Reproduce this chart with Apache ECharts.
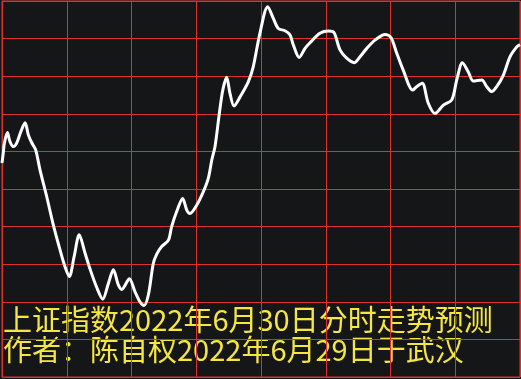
<!DOCTYPE html>
<html>
<head>
<meta charset="utf-8">
<script src="https://cdn.jsdelivr.net/npm/echarts@6/dist/echarts.min.js"></script>
<style>
html,body{margin:0;padding:0;background:#151618;}
#chart{width:521px;height:379px;}
</style>
</head>
<body>
<div id="chart"></div>
<script>
// minutes since open (0..240)
const minutes = [0,0.6,1.1,2.5,3.7,5.2,6.8,8.7,10.7,12.2,13.8,15.6,17.6,20.7,23.8,26.9,29.2,31.2,33.4,35.8,38.5,40.8,43.9,46.7,49.3,51.6,53.9,55.5,59.0,61.6,63.9,65.8,67.8,70.1,71.7,74.0,77.1,78.6,81.2,83.7,85.6,87.1,90.2,93.3,95.6,97.2,98.7,100.7,102.3,104.1,105.6,107.5,110.3,114.1,116.4,119.5,123.1,125.7,128.0,131.1,133.4,135.0,137.7,140.4,142.7,147.3,151.2,153.8,156.6,159.7,163.2,165.9,169.0,172.8,177.5,180.2,182.9,185.9,190.3,192.1,194.7,197.5,200.6,204.5,208.4,210.7,213.3,216.0,218.4,222.3,224.6,226.9,229.2,232.3,235.4,238.5,240];
// relative level (0..100 scale of the panel)
const levels = [56.9,59.6,62.2,65.0,62.6,61.3,62.2,65.2,67.6,64.4,62.3,60.4,55.1,48.0,40.4,33.8,29.3,26.7,32.0,37.8,32.9,28.7,23.8,20.7,24.9,28.5,24.5,23.3,26.1,22.7,20.0,19.0,21.8,30.2,32.7,34.7,36.4,40.0,44.4,47.5,44.4,43.5,45.7,49.3,52.9,57.7,61.3,70.1,76.3,79.7,75.5,72.1,74.5,78.5,82.5,91.4,98.5,95.4,92.7,92.1,91.0,88.3,85.0,87.4,88.9,91.4,92.0,91.6,87.0,84.8,83.6,85.2,87.4,89.6,91.1,90.3,86.1,81.6,76.3,77.2,78.1,72.8,70.1,72.3,73.7,79.0,83.6,81.2,78.7,79.0,77.2,75.9,77.2,80.3,85.2,87.8,88.4];
const titleLine1 = '上证指数2022年6月30日分时走势预测';
const titleLine2 = '作者：陈自权2022年6月29日于武汉';

const red = '#e0302e';
const chart = echarts.init(document.getElementById('chart'), null, {renderer:'canvas'});
chart.setOption({
  backgroundColor: '#151618',
  animation: false,
  grid: {left: 2, right: 1, top: 1, bottom: 2, show: true, borderColor: red, borderWidth: 1},
  xAxis: {
    type: 'value', min: 0, max: 240, interval: 30,
    axisLine: {show: false}, axisTick: {show: false}, axisLabel: {show: false},
    splitLine: {show: true, lineStyle: {color: red, width: 1}}
  },
  yAxis: {
    type: 'value', min: 0, max: 100, interval: 10,
    axisLine: {show: false}, axisTick: {show: false}, axisLabel: {show: false},
    splitLine: {show: true, lineStyle: {color: red, width: 1}}
  },
  series: [{
    type: 'line',
    data: minutes.map((m, i) => [m, levels[i]]),
    showSymbol: false,
    smooth: 0.3,
    lineStyle: {color: '#ffffff', width: 3},
    clip: true
  }],
  graphic: [
    {type: 'text', left: 3, top: 305, style: {text: titleLine1, fill: '#f5e642', font: '29px "Noto Sans CJK SC"'}},
    {type: 'text', left: 3, top: 335, style: {text: titleLine2, fill: '#f5e642', font: '29px "Noto Sans CJK SC"'}}
  ]
});
</script>
</body>
</html>
